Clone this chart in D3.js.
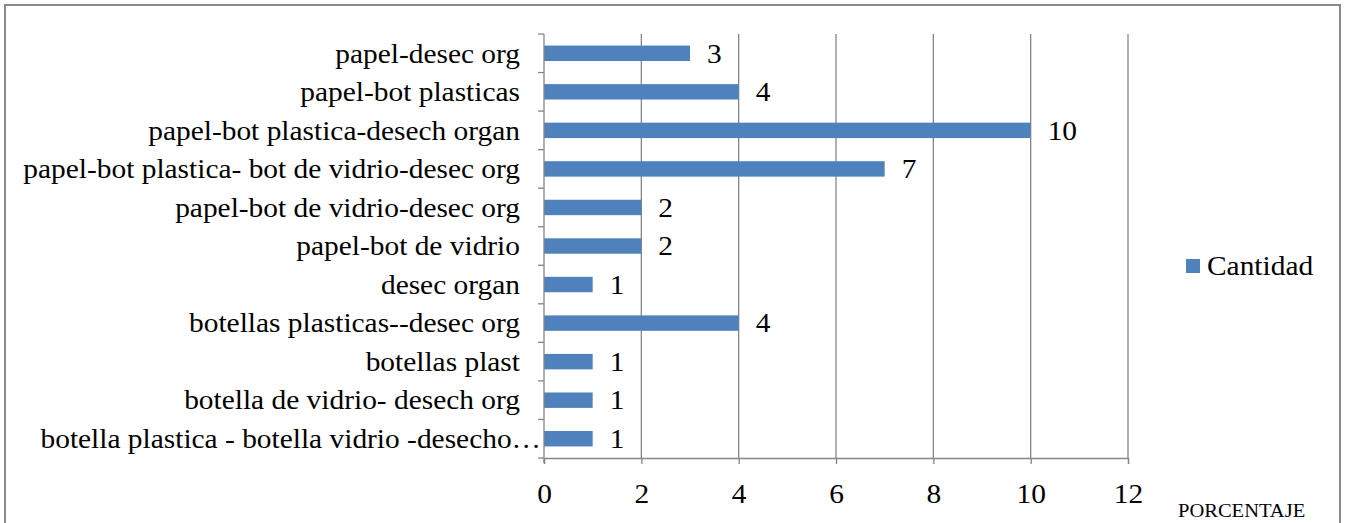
<!DOCTYPE html>
<html>
<head>
<meta charset="utf-8">
<script src="https://cdn.jsdelivr.net/npm/d3@7"></script>
<style>
    body { margin: 0; background: #fff; }
</style>
</head>
<body>
<div id="chart"></div>
<script>
// categories top to bottom, as in the picture
let categories = [
    "papel-desec org",
    "papel-bot plasticas",
    "papel-bot plastica-desech organ",
    "papel-bot plastica- bot de vidrio-desec org",
    "papel-bot de vidrio-desec org",
    "papel-bot de vidrio",
    "desec organ",
    "botellas plasticas--desec org",
    "botellas plast",
    "botella de vidrio- desech org",
    "botella plastica - botella vidrio -desecho\u2026"
];
let cantidad = [3, 4, 10, 7, 2, 2, 1, 4, 1, 1, 1];
let xTicks = [0, 2, 4, 6, 8, 10, 12];
let seriesName = "Cantidad";
let axisTitle = "PORCENTAJE";

let chartWidth = 1347;
let chartHeight = 523;
let barColor = "#4F81BD";
let gridColor = "#868686";
let fontFam = "'Liberation Serif', 'Times New Roman', Times, serif";
let fontSize = 26.5;
let stretch = 1.11; // the picture's text is a bit wide

let svg = d3.select("#chart").append("svg")
    .attr("width", chartWidth)
    .attr("height", chartHeight)
    .style("font-family", fontFam);

// outer frame
svg.append("rect")
    .attr("x", 5).attr("y", 5)
    .attr("width", 1335).attr("height", 530)
    .attr("fill", "none")
    .attr("stroke", "#8a8a8a")
    .attr("stroke-width", 2);

let x = d3.scaleLinear().domain([0, 12]).range([544, 1128]);
let y = d3.scaleBand().domain(categories).range([34, 458]).paddingInner(0.6).paddingOuter(0.3);

function place(px, py) {
    return "translate(" + px + "," + py + ") scale(" + stretch + ",1)";
}

// vertical gridlines
svg.selectAll(".grid")
    .data(xTicks.filter(d => d > 0))
    .enter().append("line")
    .attr("class", "grid")
    .attr("x1", d => x(d)).attr("x2", d => x(d))
    .attr("y1", 34).attr("y2", 458)
    .attr("stroke", gridColor)
    .attr("stroke-width", 1.3);

// bars
svg.selectAll(".bar")
    .data(cantidad)
    .enter().append("rect")
    .attr("class", "bar")
    .attr("x", x(0))
    .attr("y", (d, i) => y(categories[i]))
    .attr("width", d => x(d) - x(0))
    .attr("height", y.bandwidth())
    .attr("fill", barColor);

// value labels
svg.selectAll(".val")
    .data(cantidad)
    .enter().append("text")
    .attr("class", "val")
    .attr("transform", (d, i) => place(x(d) + 17, y(categories[i]) + y.bandwidth() / 2))
    .attr("dy", "0.35em")
    .attr("font-size", fontSize)
    .text(d => d);

// y axis line and category boundary ticks
let bounds = d3.range(categories.length + 1).map(i => 34 + i * (424 / categories.length));
svg.append("line")
    .attr("x1", x(0)).attr("x2", x(0))
    .attr("y1", 34).attr("y2", 463)
    .attr("stroke", gridColor).attr("stroke-width", 1.3);
svg.selectAll(".ytick")
    .data(bounds)
    .enter().append("line")
    .attr("x1", x(0) - 6).attr("x2", x(0))
    .attr("y1", d => d).attr("y2", d => d)
    .attr("stroke", gridColor).attr("stroke-width", 1.3);

// category labels (the truncated one runs past the others, as Excel does)
svg.selectAll(".cat")
    .data(categories)
    .enter().append("text")
    .attr("class", "cat")
    .attr("transform", d => place(d.endsWith("\u2026") ? 541 : 520, y(d) + y.bandwidth() / 2))
    .attr("dy", "0.35em")
    .attr("text-anchor", "end")
    .attr("font-size", fontSize)
    .text(d => d);

// x axis
let xAxis = svg.append("g")
    .attr("transform", "translate(0,458)")
    .call(d3.axisBottom(x).tickValues(xTicks).tickSize(6).tickPadding(20));
xAxis.select(".domain").attr("stroke", gridColor).attr("stroke-width", 1.3);
xAxis.selectAll(".tick line").attr("stroke", gridColor).attr("stroke-width", 1.3);
xAxis.selectAll(".tick text")
    .attr("transform", "scale(" + stretch + ",1)")
    .style("font-family", fontFam)
    .attr("font-size", fontSize)
    .attr("fill", "#000");

svg.append("text")
    .attr("transform", place(1178, 517))
    .attr("font-size", 18.5)
    .text(axisTitle);

// legend
svg.append("rect")
    .attr("x", 1186).attr("y", 259)
    .attr("width", 14).attr("height", 14)
    .attr("fill", barColor);
svg.append("text")
    .attr("transform", place(1207, 266))
    .attr("dy", "0.35em")
    .attr("font-size", fontSize)
    .text(seriesName);
</script>
</body>
</html>
